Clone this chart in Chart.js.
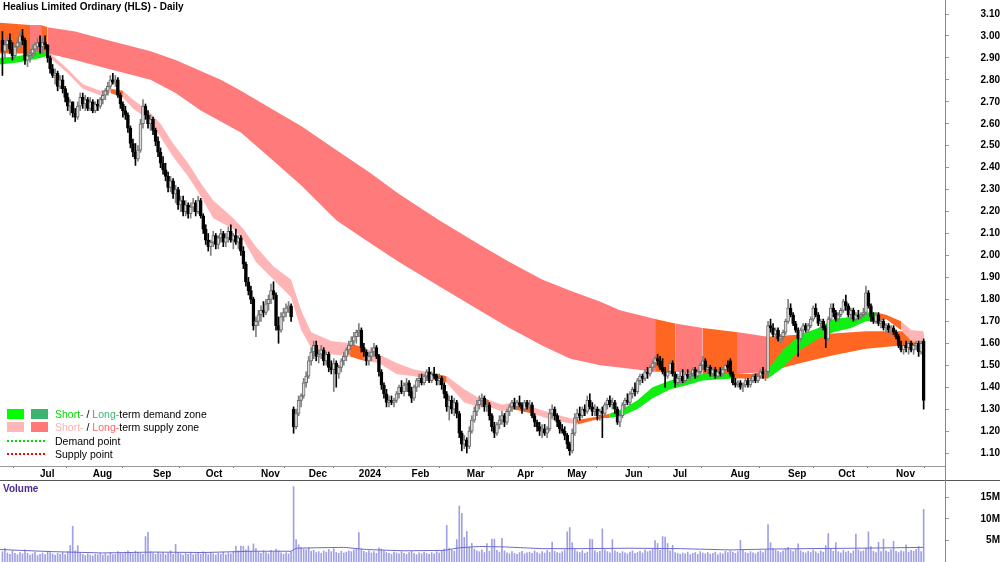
<!DOCTYPE html>
<html>
<head>
<meta charset="utf-8">
<title>Healius Limited Ordinary (HLS) - Daily</title>
<script src="https://cdn.jsdelivr.net/npm/chart.js@4.4.1/dist/chart.umd.min.js"></script>
<style>
  body { margin: 0; background: #fff; }
  #wrap { position: relative; width: 1000px; height: 562px; overflow: hidden; font-family: "Liberation Sans", Arial, sans-serif; }
  canvas { position: absolute; left: 0; }
  #priceChart { top: 0; }
  #volumeChart { top: 481px; }
  .txt { position: absolute; white-space: nowrap; line-height: 12px; }
  #title { left: 3px; top: 1px; font-weight: bold; font-size: 10px; color: #000; }
  #volTitle { left: 3px; top: 483px; font-weight: bold; font-size: 10px; color: #4b2a8f; }
  .legend { left: 7px; font-size: 10.5px; color: #000; }
  .sw { display: inline-block; width: 17px; height: 10px; vertical-align: -1px; margin-right: 7px; }
  .dots { display: inline-block; width: 38px; height: 0; vertical-align: 3px; margin-right: 10px; }
  .rule { position: absolute; }
</style>
</head>
<body>
<div id="wrap">
  <canvas id="priceChart" width="1000" height="481"></canvas>
  <canvas id="volumeChart" width="1000" height="81"></canvas>
  <div class="rule" style="left:0;top:480px;width:1000px;height:1px;background:#555"></div>
  <div class="rule" style="left:945px;top:0;width:1px;height:562px;background:#888"></div>
  <div id="title" class="txt">Healius Limited Ordinary (HLS) - Daily</div>
  <div id="volTitle" class="txt">Volume</div>
  <div class="txt legend" style="top:408px"><span class="sw" style="background:#00ff00"></span><span class="sw" style="background:#3cb371"></span><span style="color:#00dd00">Short-</span> / <span style="color:#3cb371">Long-</span>term demand zone</div>
  <div class="txt legend" style="top:421px"><span class="sw" style="background:#ffb6b6"></span><span class="sw" style="background:#ff7777"></span><span style="color:#ffb0b0">Short-</span> / <span style="color:#ff6666">Long-</span>term supply zone</div>
  <div class="txt legend" style="top:435px"><span class="dots" style="border-top:2px dotted #00dd00"></span>Demand point</div>
  <div class="txt legend" style="top:448px"><span class="dots" style="border-top:2px dotted #ff0000"></span>Supply point</div>
</div>
<script>
// daily candles, index 0 = first trading day on the chart
const open = [
  2.98,2.93,2.96,2.98,2.94,2.91,2.95,2.97,3.00,2.98,
  2.89,2.91,2.92,2.94,2.95,2.97,2.95,2.97,2.96,2.90,
  2.85,2.82,2.83,2.77,2.80,2.76,2.72,2.68,2.70,2.65,
  2.63,2.68,2.72,2.69,2.71,2.67,2.70,2.66,2.69,2.68,
  2.71,2.73,2.75,2.77,2.80,2.79,2.80,2.73,2.69,2.66,
  2.64,2.58,2.51,2.47,2.44,2.48,2.60,2.68,2.64,2.60,
  2.62,2.57,2.52,2.47,2.42,2.39,2.36,2.31,2.34,2.28,
  2.30,2.23,2.25,2.20,2.23,2.19,2.22,2.24,2.20,2.25,
  2.18,2.12,2.07,2.04,2.06,2.09,2.05,2.08,2.10,2.06,
  2.08,2.11,2.07,2.09,2.06,2.08,2.02,1.96,1.88,1.84,
  1.80,1.68,1.70,1.73,1.75,1.74,1.78,1.80,1.84,1.82,
  1.68,1.66,1.72,1.74,1.76,1.77,1.30,1.22,1.28,1.34,
  1.36,1.42,1.45,1.52,1.56,1.59,1.54,1.55,1.57,1.52,
  1.55,1.49,1.48,1.51,1.46,1.49,1.52,1.54,1.57,1.59,
  1.61,1.63,1.65,1.66,1.58,1.56,1.52,1.54,1.56,1.58,
  1.54,1.47,1.41,1.37,1.33,1.34,1.33,1.34,1.37,1.40,
  1.38,1.41,1.42,1.38,1.35,1.40,1.43,1.44,1.42,1.45,
  1.47,1.43,1.46,1.45,1.43,1.44,1.41,1.37,1.31,1.34,
  1.30,1.33,1.28,1.19,1.14,1.16,1.13,1.20,1.25,1.29,
  1.32,1.34,1.35,1.31,1.32,1.27,1.22,1.19,1.23,1.25,
  1.27,1.24,1.29,1.31,1.33,1.31,1.33,1.32,1.30,1.33,
  1.31,1.32,1.27,1.24,1.22,1.20,1.21,1.19,1.21,1.28,
  1.30,1.27,1.24,1.21,1.20,1.18,1.14,1.11,1.19,1.26,
  1.28,1.27,1.30,1.29,1.34,1.31,1.29,1.30,1.27,1.29,
  1.28,1.32,1.34,1.32,1.33,1.30,1.24,1.27,1.32,1.34,
  1.33,1.37,1.39,1.38,1.43,1.45,1.44,1.47,1.46,1.49,
  1.51,1.53,1.52,1.49,1.47,1.45,1.47,1.51,1.46,1.42,
  1.44,1.45,1.43,1.46,1.45,1.46,1.48,1.45,1.47,1.50,
  1.52,1.48,1.49,1.46,1.48,1.45,1.47,1.46,1.48,1.50,
  1.52,1.46,1.42,1.41,1.42,1.40,1.41,1.43,1.41,1.43,
  1.45,1.43,1.45,1.47,1.46,1.47,1.68,1.67,1.64,1.66,
  1.62,1.63,1.65,1.70,1.76,1.73,1.69,1.66,1.62,1.66,
  1.68,1.66,1.68,1.71,1.76,1.73,1.69,1.70,1.67,1.62,
  1.71,1.76,1.74,1.71,1.73,1.75,1.79,1.77,1.73,1.75,
  1.71,1.73,1.72,1.73,1.74,1.83,1.77,1.72,1.70,1.73,
  1.69,1.70,1.67,1.68,1.66,1.67,1.65,1.63,1.59,1.57,
  1.59,1.58,1.60,1.57,1.59,1.60,1.56,1.61
];
const high = [
  3.02,2.98,3.00,3.01,2.97,2.96,2.99,3.02,3.03,2.99,
  2.93,2.94,2.96,2.97,2.99,3.00,2.99,3.00,2.96,2.91,
  2.87,2.85,2.84,2.82,2.82,2.77,2.74,2.71,2.70,2.67,
  2.70,2.74,2.74,2.73,2.72,2.72,2.71,2.70,2.71,2.72,
  2.75,2.76,2.79,2.82,2.83,2.82,2.81,2.74,2.70,2.68,
  2.65,2.59,2.53,2.51,2.50,2.62,2.71,2.69,2.66,2.64,
  2.63,2.58,2.54,2.49,2.45,2.42,2.38,2.36,2.35,2.32,
  2.31,2.27,2.27,2.25,2.24,2.24,2.26,2.25,2.27,2.26,
  2.19,2.14,2.10,2.07,2.11,2.10,2.09,2.12,2.11,2.10,
  2.13,2.14,2.10,2.12,2.09,2.09,2.04,1.97,1.90,1.86,
  1.81,1.72,1.75,1.77,1.79,1.80,1.82,1.87,1.88,1.83,
  1.72,1.74,1.76,1.78,1.79,1.78,1.31,1.30,1.36,1.37,
  1.44,1.47,1.54,1.58,1.61,1.61,1.57,1.59,1.58,1.56,
  1.56,1.52,1.53,1.52,1.50,1.53,1.56,1.58,1.61,1.63,
  1.65,1.66,1.69,1.67,1.60,1.57,1.56,1.58,1.60,1.59,
  1.55,1.48,1.42,1.39,1.36,1.36,1.35,1.38,1.41,1.43,
  1.42,1.44,1.43,1.40,1.41,1.44,1.46,1.46,1.46,1.48,
  1.49,1.47,1.49,1.46,1.46,1.45,1.42,1.38,1.36,1.36,
  1.35,1.34,1.29,1.20,1.18,1.17,1.22,1.27,1.31,1.34,
  1.36,1.37,1.36,1.34,1.33,1.28,1.24,1.24,1.27,1.29,
  1.28,1.30,1.32,1.34,1.35,1.34,1.36,1.33,1.34,1.34,
  1.34,1.33,1.28,1.25,1.24,1.23,1.23,1.22,1.30,1.32,
  1.31,1.28,1.25,1.23,1.22,1.19,1.15,1.21,1.28,1.30,
  1.31,1.31,1.32,1.36,1.37,1.33,1.32,1.31,1.30,1.31,
  1.33,1.35,1.36,1.35,1.34,1.31,1.28,1.33,1.35,1.37,
  1.38,1.40,1.42,1.44,1.46,1.46,1.48,1.49,1.50,1.52,
  1.54,1.55,1.54,1.53,1.49,1.48,1.52,1.52,1.47,1.46,
  1.47,1.48,1.47,1.48,1.47,1.49,1.49,1.48,1.51,1.54,
  1.53,1.50,1.50,1.49,1.49,1.48,1.49,1.49,1.51,1.52,
  1.53,1.47,1.44,1.43,1.43,1.42,1.44,1.44,1.44,1.46,
  1.46,1.46,1.48,1.49,1.48,1.70,1.71,1.69,1.67,1.67,
  1.64,1.66,1.71,1.80,1.78,1.74,1.70,1.67,1.67,1.69,
  1.69,1.69,1.72,1.77,1.78,1.74,1.71,1.71,1.68,1.72,
  1.78,1.78,1.75,1.74,1.76,1.80,1.82,1.78,1.76,1.76,
  1.74,1.75,1.74,1.76,1.86,1.84,1.78,1.74,1.74,1.74,
  1.71,1.71,1.69,1.69,1.68,1.68,1.66,1.64,1.61,1.60,
  1.61,1.61,1.61,1.60,1.61,1.61,1.61,1.62
];
const low = [
  2.82,2.90,2.93,2.92,2.89,2.90,2.93,2.95,2.96,2.87,
  2.86,2.88,2.90,2.91,2.93,2.92,2.92,2.94,2.88,2.83,
  2.81,2.78,2.75,2.76,2.74,2.70,2.66,2.64,2.63,2.61,
  2.62,2.66,2.67,2.66,2.66,2.66,2.65,2.65,2.66,2.67,
  2.69,2.71,2.73,2.76,2.78,2.77,2.72,2.67,2.63,2.62,
  2.56,2.49,2.45,2.41,2.43,2.47,2.58,2.62,2.58,2.57,
  2.55,2.50,2.45,2.40,2.37,2.34,2.29,2.29,2.26,2.24,
  2.21,2.20,2.18,2.18,2.17,2.17,2.20,2.18,2.19,2.17,
  2.10,2.05,2.02,2.00,2.04,2.03,2.03,2.06,2.04,2.04,
  2.06,2.06,2.03,2.05,2.03,2.00,1.94,1.86,1.82,1.78,
  1.66,1.63,1.68,1.70,1.72,1.73,1.75,1.78,1.80,1.66,
  1.60,1.65,1.70,1.72,1.74,1.70,1.19,1.21,1.27,1.31,
  1.35,1.40,1.44,1.50,1.53,1.52,1.51,1.53,1.50,1.50,
  1.47,1.46,1.38,1.40,1.44,1.47,1.50,1.52,1.55,1.57,
  1.59,1.60,1.63,1.56,1.54,1.50,1.50,1.52,1.54,1.53,
  1.45,1.39,1.35,1.31,1.31,1.32,1.31,1.33,1.35,1.37,
  1.36,1.38,1.36,1.33,1.34,1.38,1.40,1.41,1.41,1.43,
  1.42,1.42,1.44,1.41,1.41,1.39,1.35,1.29,1.25,1.28,
  1.27,1.26,1.17,1.11,1.12,1.10,1.12,1.19,1.24,1.27,
  1.30,1.31,1.29,1.29,1.25,1.20,1.17,1.18,1.21,1.23,
  1.22,1.23,1.27,1.29,1.30,1.30,1.31,1.28,1.29,1.30,
  1.29,1.26,1.22,1.20,1.18,1.17,1.18,1.17,1.20,1.26,
  1.25,1.22,1.19,1.19,1.16,1.12,1.09,1.10,1.18,1.24,
  1.25,1.26,1.27,1.28,1.30,1.27,1.27,1.25,1.25,1.17,
  1.27,1.30,1.31,1.30,1.28,1.23,1.22,1.26,1.30,1.32,
  1.32,1.35,1.36,1.37,1.41,1.42,1.43,1.44,1.45,1.47,
  1.49,1.50,1.48,1.46,1.40,1.44,1.46,1.45,1.40,1.41,
  1.42,1.42,1.42,1.44,1.43,1.45,1.44,1.44,1.46,1.48,
  1.47,1.46,1.45,1.45,1.44,1.44,1.45,1.45,1.47,1.47,
  1.45,1.41,1.40,1.40,1.39,1.38,1.40,1.40,1.40,1.42,
  1.42,1.42,1.44,1.44,1.43,1.45,1.65,1.63,1.62,1.61,
  1.60,1.61,1.64,1.69,1.72,1.68,1.65,1.54,1.61,1.64,
  1.65,1.65,1.67,1.70,1.72,1.68,1.66,1.66,1.58,1.61,
  1.70,1.72,1.70,1.70,1.72,1.74,1.75,1.72,1.71,1.70,
  1.70,1.71,1.71,1.72,1.73,1.76,1.70,1.69,1.69,1.68,
  1.67,1.66,1.65,1.65,1.64,1.64,1.62,1.58,1.56,1.55,
  1.56,1.55,1.56,1.55,1.57,1.54,1.55,1.30
];
const close = [
  2.93,2.96,2.98,2.94,2.91,2.95,2.97,3.00,2.98,2.89,
  2.91,2.92,2.94,2.96,2.97,2.95,2.97,2.96,2.90,2.85,
  2.82,2.83,2.77,2.80,2.76,2.72,2.68,2.70,2.65,2.63,
  2.68,2.72,2.69,2.71,2.67,2.70,2.66,2.69,2.68,2.71,
  2.73,2.75,2.77,2.80,2.79,2.80,2.73,2.69,2.66,2.64,
  2.58,2.51,2.47,2.44,2.48,2.60,2.68,2.64,2.60,2.62,
  2.57,2.52,2.47,2.42,2.39,2.36,2.31,2.34,2.28,2.30,
  2.23,2.25,2.20,2.23,2.19,2.22,2.24,2.20,2.25,2.18,
  2.12,2.07,2.04,2.06,2.09,2.05,2.08,2.10,2.06,2.08,
  2.11,2.07,2.09,2.06,2.08,2.02,1.96,1.88,1.84,1.80,
  1.68,1.70,1.73,1.75,1.74,1.78,1.80,1.84,1.82,1.68,
  1.66,1.72,1.74,1.76,1.77,1.72,1.22,1.28,1.34,1.36,
  1.42,1.45,1.52,1.56,1.59,1.54,1.55,1.57,1.52,1.55,
  1.49,1.48,1.51,1.46,1.49,1.52,1.54,1.57,1.59,1.61,
  1.63,1.65,1.66,1.58,1.56,1.52,1.54,1.56,1.58,1.54,
  1.47,1.41,1.37,1.33,1.34,1.33,1.34,1.37,1.40,1.38,
  1.41,1.42,1.38,1.35,1.40,1.43,1.44,1.42,1.45,1.47,
  1.43,1.46,1.45,1.43,1.44,1.41,1.37,1.31,1.34,1.30,
  1.33,1.28,1.19,1.14,1.16,1.13,1.20,1.25,1.29,1.32,
  1.34,1.35,1.31,1.32,1.27,1.22,1.19,1.23,1.25,1.27,
  1.24,1.29,1.31,1.33,1.31,1.33,1.32,1.30,1.33,1.31,
  1.32,1.27,1.24,1.22,1.20,1.21,1.19,1.21,1.28,1.30,
  1.27,1.24,1.21,1.20,1.18,1.14,1.11,1.19,1.26,1.28,
  1.27,1.30,1.29,1.34,1.31,1.29,1.30,1.27,1.29,1.28,
  1.32,1.34,1.32,1.33,1.30,1.24,1.27,1.32,1.34,1.33,
  1.37,1.39,1.38,1.43,1.45,1.44,1.47,1.46,1.49,1.51,
  1.53,1.52,1.49,1.47,1.45,1.47,1.51,1.46,1.42,1.44,
  1.45,1.43,1.46,1.45,1.46,1.48,1.45,1.47,1.50,1.52,
  1.48,1.49,1.46,1.48,1.45,1.47,1.46,1.48,1.50,1.49,
  1.46,1.42,1.41,1.42,1.40,1.41,1.43,1.41,1.43,1.45,
  1.43,1.45,1.47,1.46,1.47,1.68,1.67,1.64,1.66,1.62,
  1.63,1.65,1.70,1.76,1.73,1.69,1.66,1.62,1.66,1.68,
  1.66,1.68,1.71,1.76,1.73,1.69,1.70,1.67,1.62,1.71,
  1.76,1.74,1.71,1.73,1.75,1.79,1.77,1.73,1.75,1.71,
  1.73,1.72,1.73,1.74,1.83,1.77,1.72,1.70,1.73,1.69,
  1.70,1.67,1.68,1.66,1.67,1.65,1.63,1.59,1.57,1.59,
  1.58,1.60,1.57,1.59,1.60,1.56,1.60,1.34
];
// daily volume, millions of shares
const volume = [
  2.4,3.2,2.1,1.8,2.6,2.0,1.7,2.2,1.9,2.8,
  2.0,1.6,1.9,2.3,1.5,1.8,2.1,1.7,2.5,2.2,
  1.9,1.6,2.0,1.8,2.2,1.7,2.4,3.8,8.3,2.6,
  3.8,2.1,1.8,1.5,1.9,1.6,1.4,1.8,1.7,2.0,
  1.6,1.9,1.5,2.2,1.7,1.8,2.4,2.0,1.9,2.3,
  2.6,2.1,1.9,2.5,2.2,2.0,1.8,5.9,6.9,2.4,
  2.1,1.8,2.3,1.9,2.2,1.7,2.0,2.6,1.8,4.1,
  2.2,1.9,1.6,2.0,1.8,2.3,1.7,1.9,2.1,1.8,
  2.4,2.0,1.7,2.2,1.9,1.6,2.0,1.8,2.3,1.7,
  2.1,1.9,2.4,3.7,2.6,3.7,3.6,2.8,3.7,2.5,
  4.2,3.1,2.4,2.0,2.6,2.2,1.9,2.7,2.3,3.0,
  2.6,2.1,1.8,2.2,1.9,2.4,17.5,5.2,4.0,3.4,
  3.0,2.8,3.3,2.5,2.7,2.2,2.4,2.0,2.6,2.3,
  2.9,2.4,3.1,2.2,2.0,2.5,2.1,2.3,2.6,2.4,
  2.8,3.2,6.8,3.0,2.5,2.2,2.6,2.1,2.4,2.0,
  3.3,3.0,2.6,2.2,2.0,1.8,2.3,2.1,1.9,2.4,
  2.0,1.8,2.2,2.5,2.0,1.7,2.1,1.9,2.3,2.0,
  1.8,2.2,1.9,2.4,2.1,2.6,3.0,8.5,3.2,2.8,
  2.5,5.2,13.0,11.3,5.7,7.1,3.5,4.3,3.0,2.6,
  2.4,2.8,2.2,4.3,2.5,5.3,5.3,2.7,2.3,5.5,
  2.6,2.1,1.9,2.4,2.0,1.8,2.2,2.5,1.9,2.1,
  2.3,2.0,2.6,2.2,1.9,2.4,2.1,2.7,2.3,4.6,
  2.5,2.2,2.0,2.4,2.8,7.0,8.0,4.5,2.9,2.4,
  2.2,2.6,2.0,2.3,5.3,5.2,2.6,2.2,2.5,7.7,
  2.8,2.4,2.1,5.2,2.6,2.3,2.0,2.4,2.1,1.9,
  2.3,2.6,2.0,2.2,2.5,2.1,2.8,2.4,2.6,3.0,
  5.0,4.3,2.7,5.9,5.8,4.3,2.6,3.9,2.2,2.0,
  1.8,2.1,1.9,2.3,1.7,2.0,2.2,1.8,2.4,2.1,
  1.9,2.2,1.8,2.0,2.3,1.7,2.1,1.9,2.5,2.2,
  2.6,2.3,2.0,2.4,5.0,2.8,2.2,2.0,2.4,2.1,
  1.9,2.3,2.6,2.2,2.8,8.7,4.5,3.2,2.8,2.5,
  2.2,2.6,3.0,3.4,2.7,2.4,2.9,4.2,2.6,2.3,
  2.1,2.5,2.2,2.8,2.4,2.0,2.6,2.3,3.8,6.6,
  3.0,2.5,4.5,2.4,2.1,2.7,2.3,2.5,2.0,2.6,
  6.5,2.8,2.4,2.6,3.2,7.0,3.6,2.5,2.2,4.6,
  2.4,5.3,2.6,2.3,2.9,4.8,2.5,2.2,2.6,2.4,
  4.0,2.3,2.7,2.5,2.9,3.6,2.4,12.2
];
// volume average line, read at sparse days
const volAvgDay = [-1, 20, 40, 60, 80, 100, 115, 117, 125, 136, 145, 160, 176, 182, 190, 200, 215, 230, 250, 270, 290, 305, 320, 340, 355, 367];
const volAvg = [2.9, 2.4, 2.1, 2.3, 2.2, 2.5, 2.5, 3.2, 3.3, 3.4, 2.9, 2.6, 2.7, 3.3, 3.6, 3.5, 3.1, 3.1, 3.2, 3.1, 2.8, 3.0, 3.1, 3.2, 3.3, 3.4];

// long-term zone edges
const longDay = [-1, 11, 15.4, 18, 29, 39, 49, 59, 69, 79, 87, 95, 107, 119, 133, 146, 158, 174, 190, 202, 215, 226, 238, 246, 260, 268, 279, 293, 305, 318, 331, 344, 358, 367];
const longTop = [3.06, 3.05, 3.05, 3.04, 3.02, 2.99, 2.96, 2.93, 2.89, 2.84, 2.80, 2.75, 2.67, 2.59, 2.48, 2.38, 2.28, 2.16, 2.05, 1.97, 1.89, 1.84, 1.79, 1.75, 1.71, 1.69, 1.67, 1.65, 1.63, 1.64, 1.645, 1.655, 1.655, 1.645];
const longBottom = [2.92, 2.92, 2.92, 2.92, 2.89, 2.86, 2.83, 2.80, 2.74, 2.66, 2.61, 2.56, 2.44, 2.32, 2.16, 2.06, 1.97, 1.86, 1.75, 1.67, 1.59, 1.53, 1.50, 1.49, 1.47, 1.47, 1.46, 1.46, 1.47, 1.51, 1.545, 1.575, 1.59, 1.59];
const longTested = [[-1, 11], [15.4, 18], [260, 268], [279, 293], [305, 367]];

// short-term zone edges
const shortDay = [-1, 7, 15, 18, 26, 32, 39, 43, 48, 52, 58, 63, 68, 74, 79, 84, 92, 96, 101, 108, 115, 119, 123, 131, 138.5, 144, 150, 157, 164, 169, 177, 184, 190, 192, 194, 199, 203, 211, 219, 229, 239, 242, 247, 253, 259, 266, 273, 279, 291, 299, 305, 311, 318, 325, 331, 338, 344, 348, 352, 358, 362, 367];
const shortTop = [2.90, 2.91, 2.93, 2.93, 2.85, 2.78, 2.75, 2.76, 2.75, 2.71, 2.66, 2.60, 2.51, 2.42, 2.33, 2.25, 2.17, 2.12, 2.04, 1.95, 1.89, 1.75, 1.65, 1.61, 1.60, 1.58, 1.55, 1.51, 1.48, 1.47, 1.45, 1.39, 1.35, 1.35, 1.34, 1.32, 1.33, 1.31, 1.28, 1.25, 1.27, 1.28, 1.30, 1.34, 1.40, 1.43, 1.45, 1.46, 1.46, 1.46, 1.48, 1.57, 1.64, 1.67, 1.71, 1.72, 1.74, 1.74, 1.73, 1.70, 1.66, 1.655];
const shortBottom = [2.87, 2.88, 2.90, 2.91, 2.83, 2.76, 2.73, 2.74, 2.72, 2.67, 2.62, 2.54, 2.45, 2.36, 2.27, 2.17, 2.12, 2.07, 1.97, 1.89, 1.81, 1.66, 1.58, 1.55, 1.54, 1.52, 1.51, 1.46, 1.45, 1.44, 1.42, 1.33, 1.31, 1.31, 1.31, 1.29, 1.30, 1.28, 1.25, 1.23, 1.26, 1.26, 1.27, 1.30, 1.35, 1.39, 1.41, 1.43, 1.44, 1.44, 1.44, 1.49, 1.57, 1.62, 1.65, 1.67, 1.70, 1.70, 1.71, 1.66, 1.61, 1.59];
const shortDemand = [[-1, 18], [242, 291], [305, 348]];
const shortTested = [[43, 48], [138.5, 144], [169, 177], [192, 194], [203, 211], [229, 242], [291, 305], [348, 358]];

// axis ticks
const monthDay = [15, 36, 60, 81, 103, 122, 142, 163, 185, 205, 225, 248, 267, 290, 313, 333, 356];
const monthLabels = ['Jul', 'Aug', 'Sep', 'Oct', 'Nov', 'Dec', '2024', 'Feb', 'Mar', 'Apr', 'May', 'Jun', 'Jul', 'Aug', 'Sep', 'Oct', 'Nov'];
const priceTicks = [1.1, 1.2, 1.3, 1.4, 1.5, 1.6, 1.7, 1.8, 1.9, 2.0, 2.1, 2.2, 2.3, 2.4, 2.5, 2.6, 2.7, 2.8, 2.9, 3.0, 3.1];
const volumeTicks = [5, 10, 15];

const ORANGE = '#ff6622';
const SALMON = '#ff7a7a';
const PINK = '#ffb5b5';
const GREEN = '#11ee11';
const X_MIN = -0.96, X_MAX = 375.5;

Chart.defaults.font.family = 'Liberation Sans';

const days = close.map((c, i) => i);
const up = days.map(i => close[i] >= open[i]);

function inZones(zones, x) {
  return zones.some(z => x >= z[0] && x <= z[1]);
}
function segColor(rules, dflt) {
  return ctx => {
    const mid = (ctx.p0.parsed.x + ctx.p1.parsed.x) / 2;
    for (const r of rules) if (inZones(r[0], mid)) return r[1];
    return dflt;
  };
}
function edge(xs, ys) {
  return xs.map((x, k) => ({ x: x, y: ys[k] }));
}
// keep chart area flush with the canvas edges
function noPad(s) {
  s.paddingTop = 0; s.paddingBottom = 0; s.paddingLeft = 0; s.paddingRight = 0;
}
const hidden = 'rgba(0,0,0,0)';

new Chart(document.getElementById('priceChart'), {
  type: 'bar',
  data: {
    datasets: [
      {
        type: 'bar',
        data: days.map(i => ({ x: i, y: [Math.min(open[i], close[i]), Math.max(open[i], close[i])] })),
        backgroundColor: days.map(i => up[i] ? '#dcdcdc' : '#000'),
        borderColor: days.map(i => up[i] ? '#6a6a6a' : '#000'),
        borderWidth: 1,
        borderSkipped: false,
        barThickness: 3,
        minBarLength: 1,
        grouped: false,
        order: 1
      },
      {
        type: 'bar',
        data: days.map(i => ({ x: i, y: [low[i], high[i]] })),
        backgroundColor: days.map(i => up[i] ? '#808080' : '#000'),
        barThickness: 1,
        grouped: false,
        order: 2
      },
      {
        type: 'line',
        data: edge(shortDay, shortTop),
        fill: '+1',
        backgroundColor: PINK,
        borderColor: hidden,
        borderWidth: 0,
        pointRadius: 0,
        segment: { backgroundColor: segColor([[shortDemand, GREEN], [shortTested, ORANGE]], PINK) },
        order: 5
      },
      {
        type: 'line',
        data: edge(shortDay, shortBottom),
        fill: false,
        borderColor: hidden,
        borderWidth: 0,
        pointRadius: 0,
        order: 6
      },
      {
        type: 'line',
        data: edge(longDay, longTop),
        fill: '+1',
        backgroundColor: SALMON,
        borderColor: hidden,
        borderWidth: 0,
        pointRadius: 0,
        segment: { backgroundColor: segColor([[longTested, ORANGE]], SALMON) },
        order: 8
      },
      {
        type: 'line',
        data: edge(longDay, longBottom),
        fill: false,
        borderColor: hidden,
        borderWidth: 0,
        pointRadius: 0,
        order: 9
      }
    ]
  },
  options: {
    responsive: false,
    animation: false,
    events: [],
    layout: { padding: 0 },
    plugins: { legend: { display: false }, tooltip: { enabled: false } },
    scales: {
      x: {
        type: 'linear',
        min: X_MIN,
        max: X_MAX,
        offset: false,
        afterBuildTicks: s => { s.ticks = monthDay.map(v => ({ value: v })); },
        afterFit: s => { s.height = 15; noPad(s); },
        ticks: {
          callback: (v, k) => monthLabels[k],
          align: 'start',
          autoSkip: false,
          maxRotation: 0,
          padding: 0,
          color: '#000',
          font: { size: 10, weight: 'bold' }
        },
        grid: { drawOnChartArea: false, drawTicks: true, tickLength: 2, tickColor: '#777' },
        border: { display: true, color: '#999', width: 1 }
      },
      y: {
        type: 'linear',
        position: 'right',
        min: 1.0408,
        max: 3.1638,
        afterBuildTicks: s => { s.ticks = priceTicks.map(v => ({ value: v })); },
        afterFit: s => { s.width = 55; noPad(s); },
        ticks: {
          callback: v => v.toFixed(2),
          crossAlign: 'far',
          padding: 27,
          color: '#000',
          font: { size: 10, weight: 'bold' }
        },
        grid: { drawOnChartArea: false, drawTicks: true, tickLength: 4, tickColor: '#999' },
        border: { display: false }
      }
    }
  }
});

new Chart(document.getElementById('volumeChart'), {
  type: 'bar',
  data: {
    datasets: [
      {
        type: 'line',
        data: edge(volAvgDay, volAvg),
        borderColor: '#6b6bcc',
        borderWidth: 1,
        pointRadius: 0,
        fill: false,
        order: 0
      },
      {
        type: 'bar',
        data: days.map(i => ({ x: i, y: volume[i] })),
        backgroundColor: '#a0a0e4',
        barThickness: 1,
        grouped: false,
        order: 1
      }
    ]
  },
  options: {
    responsive: false,
    animation: false,
    events: [],
    layout: { padding: 0 },
    plugins: { legend: { display: false }, tooltip: { enabled: false } },
    scales: {
      x: { type: 'linear', min: X_MIN, max: X_MAX, offset: false, display: false },
      y: {
        type: 'linear',
        position: 'right',
        min: 0,
        max: 18.8,
        afterBuildTicks: s => { s.ticks = volumeTicks.map(v => ({ value: v })); },
        afterFit: s => { s.width = 55; noPad(s); },
        ticks: {
          callback: v => v + 'M',
          crossAlign: 'far',
          padding: 29,
          color: '#000',
          font: { size: 10, weight: 'bold' }
        },
        grid: { drawOnChartArea: false, drawTicks: true, tickLength: 4, tickColor: '#999' },
        border: { display: false }
      }
    }
  }
});
</script>
</body>
</html>
